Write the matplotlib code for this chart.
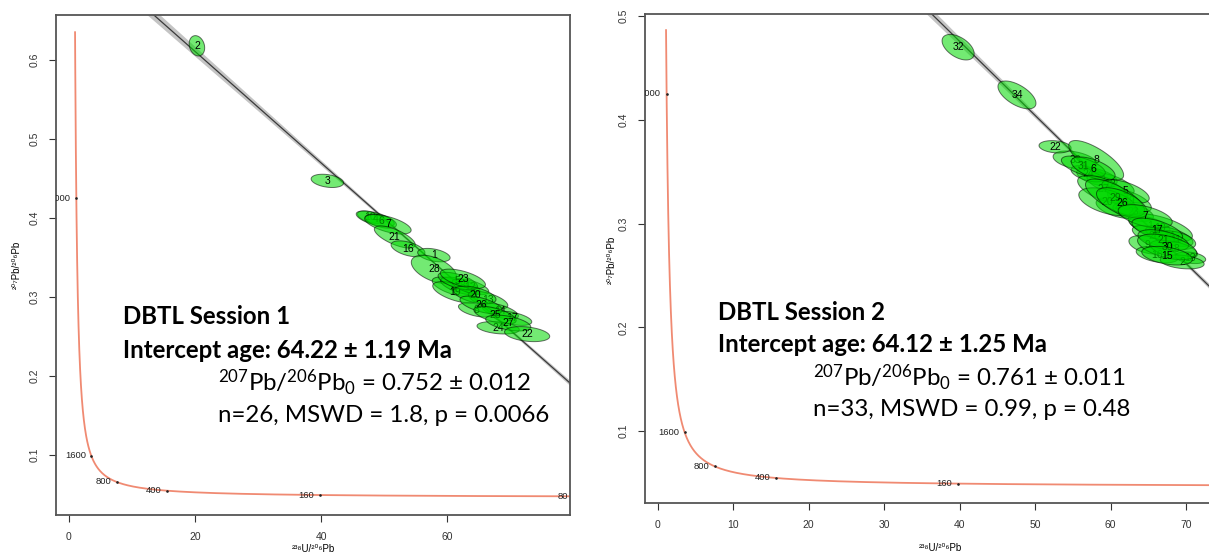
import numpy as np
import matplotlib
matplotlib.use("Agg")
import matplotlib.pyplot as plt

plt.rcParams['mathtext.fontset'] = 'custom'
plt.rcParams['mathtext.rm'] = 'Lato'
plt.rcParams['mathtext.it'] = 'Lato:italic'
plt.rcParams['mathtext.bf'] = 'Lato:bold'

# decay constants for the Tera-Wasserburg concordia
lam238 = 1.55125e-4
lam235 = 9.8485e-4
u_ratio = 137.818

# concordia age marks (Ma)
ages1 = [4000, 1600, 800, 400, 160, 80]
ages2 = [4000, 1600, 800, 400, 160]
tmax1 = 4590
tmax2 = 4200

# session 1 ellipses: label, 238U/206Pb, 207Pb/206Pb, x err, y err, rho
lab1 = [2, 3, 10, 4, 6, 7, 21, 16, 1, 28, 11, 18, 19, 12, 13, 14, 17, 5, 23,
        20, 8, 26, 25, 24, 27, 22]
x1 = [20.3, 41.0, 47.8, 48.6, 49.5, 50.6, 51.7, 53.8, 57.9, 57.9, 61.0, 62.1,
      61.3, 63.7, 66.5, 68.4, 70.3, 61.7, 62.5, 64.4, 64.6, 65.4, 67.6, 68.1,
      69.7, 72.7]
y1 = [0.618, 0.447, 0.401, 0.399, 0.396, 0.392, 0.376, 0.361, 0.353, 0.335,
      0.313, 0.314, 0.306, 0.313, 0.296, 0.282, 0.273, 0.320, 0.323, 0.3025,
      0.2835, 0.290, 0.277, 0.261, 0.267, 0.253]
sx1 = [1.1, 2.3, 1.8, 2.7, 2.2, 3.3, 2.9, 2.4, 2.3, 3.2, 3.0, 2.8, 3.2, 2.6,
       2.8, 2.6, 2.8, 2.8, 3.2, 3.0, 2.5, 3.0, 3.0, 3.0, 3.2, 3.2]
sy1 = [0.0115, 0.0075, 0.007, 0.0089, 0.008, 0.011, 0.0125, 0.009, 0.0076,
       0.016, 0.011, 0.010, 0.012, 0.009, 0.010, 0.009, 0.008, 0.010, 0.011,
       0.010, 0.008, 0.010, 0.010, 0.007, 0.009, 0.0085]
rho1 = [-0.2, -0.3, -0.5, -0.6, -0.5, -0.6, -0.7, -0.5, -0.4, -0.5, -0.6, -0.6,
        -0.6, -0.6, -0.6, -0.6, -0.5, -0.6, -0.6, -0.5, -0.5, -0.6, -0.6, -0.3,
        -0.5, -0.3]

# session 2 ellipses
lab2 = [3, 12, 33, 24, 4, 19, 23, 1, 10, 14, 28, 9, 11, 16, 18, 13, 2,
        32, 34, 22, 8, 31, 6, 27, 5, 20, 29, 26, 7, 17, 21, 30, 15]
x2 = [58.2, 60.0, 55.3, 57.0, 61.0, 62.5, 63.0, 65.2, 66.6, 67.8, 65.8, 64.9,
      68.6, 66.2, 68.4, 70.6, 69.5,
      39.8, 47.6, 52.65, 58.1, 56.4, 57.7, 59.0, 62.0, 59.6, 60.6, 61.5, 64.6,
      66.2, 67.0, 67.5, 67.5]
y2 = [0.345, 0.338, 0.361, 0.348, 0.315, 0.322, 0.311, 0.298, 0.296, 0.288,
      0.288, 0.2795, 0.284, 0.270, 0.275, 0.267, 0.263,
      0.470, 0.424, 0.374, 0.361, 0.355, 0.353, 0.333, 0.331, 0.321, 0.325,
      0.320, 0.307, 0.294, 0.284, 0.2775, 0.269]
sx2 = [2.4, 2.8, 2.6, 2.0, 2.6, 2.6, 2.4, 2.4, 3.8, 2.8, 2.6, 2.2, 2.4, 2.5,
       2.8, 1.8, 2.6,
       1.9, 2.25, 1.9, 3.25, 2.6, 2.6, 3.0, 2.8, 3.4, 3.5, 3.0, 3.2, 3.0, 3.0,
       3.5, 3.0]
sy2 = [0.008, 0.010, 0.008, 0.007, 0.009, 0.010, 0.008, 0.008, 0.012, 0.009,
       0.009, 0.008, 0.008, 0.007, 0.008, 0.005, 0.006,
       0.011, 0.012, 0.0053, 0.017, 0.009, 0.010, 0.012, 0.010, 0.012, 0.016,
       0.013, 0.010, 0.010, 0.009, 0.011, 0.008]
rho2 = [-0.5, -0.6, -0.4, -0.5, -0.5, -0.6, -0.5, -0.5, -0.6, -0.6, -0.6, -0.4,
        -0.4, -0.4, -0.5, -0.3, -0.3,
        -0.5, -0.6, -0.2, -0.75, -0.6, -0.6, -0.6, -0.6, -0.5, -0.7, -0.6,
        -0.5, -0.6, -0.5, -0.5, -0.4]

# fit results
age1, age_err1, pb0_1, pb0_err1, n1, mswd1, p1 = 64.22, 1.19, 0.752, 0.012, 26, '1.8', '0.0066'
age2, age_err2, pb0_2, pb0_err2, n2, mswd2, p2 = 64.12, 1.25, 0.761, 0.011, 33, '0.99', '0.48'

W, H = 1209, 556
tick_font = ['Liberation Sans', 'DejaVu Sans']
conf = 1.12  # ellipse size factor


def concordia(t):
    e8 = np.exp(lam238 * t) - 1
    e5 = np.exp(lam235 * t) - 1
    return 1 / e8, e5 / (u_ratio * e8)


def draw_panel(ax, lab, x, y, sx, sy, rho, ages, tmax, age, pb0, band_b, xc,
               xlim, ylim, xticks, yticks):
    ax.set_xlim(*xlim)
    ax.set_ylim(*ylim)

    # concordia curve
    t = np.geomspace(50, tmax, 600)
    cx, cy = concordia(t)
    ax.plot(cx, cy, color='#f08a72', lw=1.3, zorder=2)
    for a in ages:
        px, py = concordia(a)
        ax.plot(px, py, marker='o', ms=0.9, color='#222222', zorder=2)
        ax.annotate(str(a), (px, py), xytext=(-4, 0), textcoords='offset points',
                    ha='right', va='center', fontsize=6.8, family=tick_font,
                    color='#222222', annotation_clip=False, clip_on=True)

    # regression line through the common Pb intercept and the concordia age
    xt, yt = concordia(age)
    xs = np.linspace(xlim[0], xlim[1], 300)
    ys = pb0 + (yt - pb0) * xs / xt
    hw = np.sqrt(0.0015 ** 2 + (band_b * (xs - xc)) ** 2)
    ax.fill_between(xs, ys - hw, ys + hw, color='#c4c4c4', lw=0, zorder=1)
    ax.plot(xs, ys, color='#3a3a3a', lw=0.9, zorder=1.5)

    # error ellipses
    th = np.linspace(0, 2 * np.pi, 80)
    for i in range(len(lab)):
        ex = x[i] + conf * sx[i] * np.cos(th)
        ey = y[i] + conf * sy[i] * (rho[i] * np.cos(th) + np.sqrt(1 - rho[i] ** 2) * np.sin(th))
        ax.fill(ex, ey, facecolor=(0.0, 0.85, 0.0, 0.55), edgecolor=(0, 0, 0, 0.55),
                lw=0.7, zorder=3 + i * 0.01)
        ax.text(x[i], y[i], str(lab[i]), ha='center', va='center', fontsize=7.5,
                family=tick_font, zorder=3.005 + i * 0.01)

    ax.set_xticks(xticks)
    ax.set_yticks(yticks)
    ax.set_xticklabels([str(v) for v in xticks], family=tick_font)
    ax.set_yticklabels([('%.1f' % v) for v in yticks], family=tick_font,
                       rotation=90, va='center')
    ax.tick_params(labelsize=7.5, length=5, width=0.8, pad=7, colors='#333333')
    for s in ax.spines.values():
        s.set_color('#555555')
        s.set_linewidth(1.3)


fig = plt.figure(figsize=(W / 100, H / 100), dpi=100)

ax1 = fig.add_axes([56 / W, 1 - 515 / H, (570 - 56) / W, 500 / H])
draw_panel(ax1, lab1, x1, y1, sx1, sy1, rho1, ages1, tmax1, age1, pb0_1,
           1.5e-4, 60, (-2.06, 79.5), (0.024, 0.657),
           [0, 20, 40, 60], [0.1, 0.2, 0.3, 0.4, 0.5, 0.6])

ax2 = fig.add_axes([645 / W, 1 - 503 / H, (1235 - 645) / W, 489 / H])
draw_panel(ax2, lab2, x2, y2, sx2, sy2, rho2, ages2, tmax2, age2, pb0_2,
           1.8e-4, 62, (-1.7, 76.5), (0.0306, 0.502),
           [0, 10, 20, 30, 40, 50, 60, 70], [0.1, 0.2, 0.3, 0.4, 0.5])

# axis titles
fig.text(313 / W, 1 - 549 / H, '²³⁸U/²⁰⁶Pb', ha='center', va='center',
         fontsize=7, family=tick_font)
fig.text(940 / W, 1 - 548 / H, '²³⁸U/²⁰⁶Pb', ha='center', va='center',
         fontsize=7, family=tick_font)
fig.text(17 / W, 1 - 265 / H, '²⁰⁷Pb/²⁰⁶Pb', ha='center', va='center',
         fontsize=7, family=tick_font, rotation=90)
fig.text(612 / W, 1 - 260 / H, '²⁰⁷Pb/²⁰⁶Pb', ha='center', va='center',
         fontsize=7, family=tick_font, rotation=90)

# result annotations
big = 17.3
for (lx, sx_, ys, sess, age, err, pb0, pb0e, n, mswd, p) in [
        (123, 218, [317, 350, 383, 415], 1, age1, age_err1, pb0_1, pb0_err1, n1, mswd1, p1),
        (718, 813, [313, 345, 378, 410], 2, age2, age_err2, pb0_2, pb0_err2, n2, mswd2, p2)]:
    fig.text(lx / W, 1 - ys[0] / H, 'DBTL Session %d' % sess, fontsize=big,
             family='Lato', weight='bold', va='center')
    fig.text(lx / W, 1 - ys[1] / H, 'Intercept age: %.2f ± %.2f Ma' % (age, err),
             fontsize=big, family='Lato', weight='bold', va='center')
    fig.text(sx_ / W, 1 - ys[2] / H,
             r'$^{207}$Pb/$^{206}$Pb$_0$ = %.3f ± %.3f' % (pb0, pb0e),
             fontsize=big, family='Lato', va='center')
    fig.text(sx_ / W, 1 - ys[3] / H, 'n=%d, MSWD = %s, p = %s' % (n, mswd, p),
             fontsize=big, family='Lato', va='center')

fig.savefig('out.png', dpi=100)
